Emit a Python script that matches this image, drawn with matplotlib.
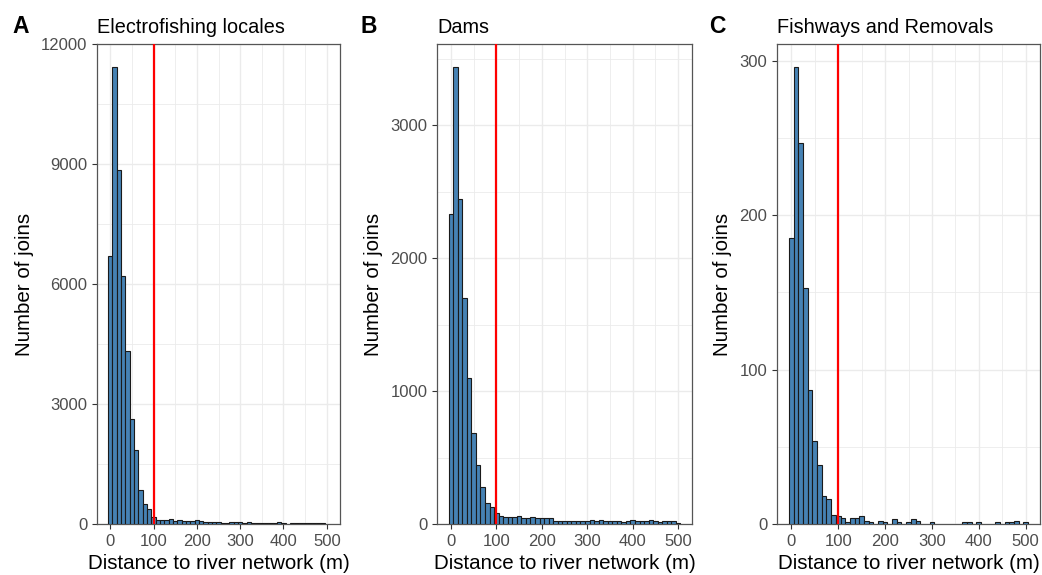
import numpy as np
import matplotlib
matplotlib.use("Agg")
import matplotlib.pyplot as plt
from matplotlib.ticker import MultipleLocator

plt.rcParams['font.family'] = ['Liberation Sans', 'DejaVu Sans']

# ---------------- data ----------------
bin_centers = list(range(0, 510, 10))  # distance bins (m), width 10

electro_counts = [6700, 11430, 8850, 6190, 4330, 2620, 1860, 850, 500, 380,
                  170, 100, 100, 110, 125, 84, 92, 67, 67, 67,
                  100, 65, 42, 42, 42, 42, 25, 25, 50, 50,
                  50, 25, 50, 25, 25, 25, 25, 25, 25, 58,
                  25, 0, 15, 15, 15, 15, 15, 15, 15, 15,
                  0]

dams_counts = [2336, 3441, 2447, 1704, 1102, 687, 445, 277, 160, 128,
               85, 62, 55, 55, 50, 62, 45, 45, 52, 45,
               45, 45, 45, 25, 25, 25, 25, 25, 20, 20,
               20, 30, 20, 30, 20, 20, 20, 20, 15, 20,
               30, 20, 20, 20, 30, 20, 13, 20, 20, 20,
               8]

fishway_counts = [185, 296, 247, 153, 87, 54, 38, 18, 16, 6,
                  5, 4, 1, 4, 4, 5, 2, 1, 0, 2,
                  1, 0, 3, 1, 0, 1, 3, 2, 0, 0,
                  1, 0, 0, 0, 0, 0, 0, 1, 1, 0,
                  1, 0, 0, 0, 1, 0, 1, 1, 2, 0,
                  1]

panel_letters = ["A", "B", "C"]
panel_titles = ["Electrofishing locales", "Dams", "Fishways and Removals"]
y_major = [3000, 1000, 100]
y_minor = [1500, 500, 50]
y_tops = [12001, 3613, 310.8]
x_ticks = [0, 100, 200, 300, 400, 500]
threshold = 100
xlabel = "Distance to river network (m)"
ylabel = "Number of joins"

# ---------------- layout (pixels) ----------------
W, H = 1042, 575
fig = plt.figure(figsize=(W / 100, H / 100), dpi=100)
panels_px = [(97, 340), (437, 692), (777, 1040)]
letter_x = [12, 361, 709]
top_px, bot_px = 44, 524

all_counts = [electro_counts, dams_counts, fishway_counts]
grid_c = '#EBEBEB'
for i, (l, r) in enumerate(panels_px):
    ax = fig.add_axes([l / W, 1 - bot_px / H, (r - l) / W, (bot_px - top_px) / H])
    counts = np.array(all_counts[i])
    centers = np.array(bin_centers)
    m = counts > 0
    ax.bar(centers[m], counts[m], width=10, align='center', color='#4682B4',
           edgecolor='#1a1a1a', linewidth=0.8, zorder=3)
    ax.axvline(threshold, color='#FF0000', linewidth=1.6, zorder=4)
    ax.set_xlim(-30.5, 530.5)
    ax.set_ylim(0, y_tops[i])
    ax.set_xticks(x_ticks)
    ax.xaxis.set_minor_locator(MultipleLocator(50))
    ax.yaxis.set_major_locator(MultipleLocator(y_major[i]))
    ax.yaxis.set_minor_locator(MultipleLocator(y_minor[i]))
    ax.grid(which='major', color=grid_c, linewidth=1.0, zorder=0)
    ax.grid(which='minor', color=grid_c, linewidth=0.6, zorder=0)
    ax.set_axisbelow(True)
    ax.tick_params(which='minor', length=0)
    ax.tick_params(which='major', length=3.5, width=0.8, color='#333333',
                   labelcolor='#4D4D4D', labelsize=12, pad=3.5)
    for s in ax.spines.values():
        s.set_color('#555555')
        s.set_linewidth(0.9)
    ax.set_xlabel(xlabel, fontsize=14.8, color='black', labelpad=4)
    ax.set_ylabel(ylabel, fontsize=14.8, color='black', labelpad=5)
    ax.set_title(panel_titles[i], loc='left', fontsize=14.3, pad=8)
    fig.text(letter_x[i] / W, 1 - 33 / H, panel_letters[i], fontsize=16.5,
             fontweight='bold', ha='left', va='baseline')

fig.savefig('out.png', dpi=100)
